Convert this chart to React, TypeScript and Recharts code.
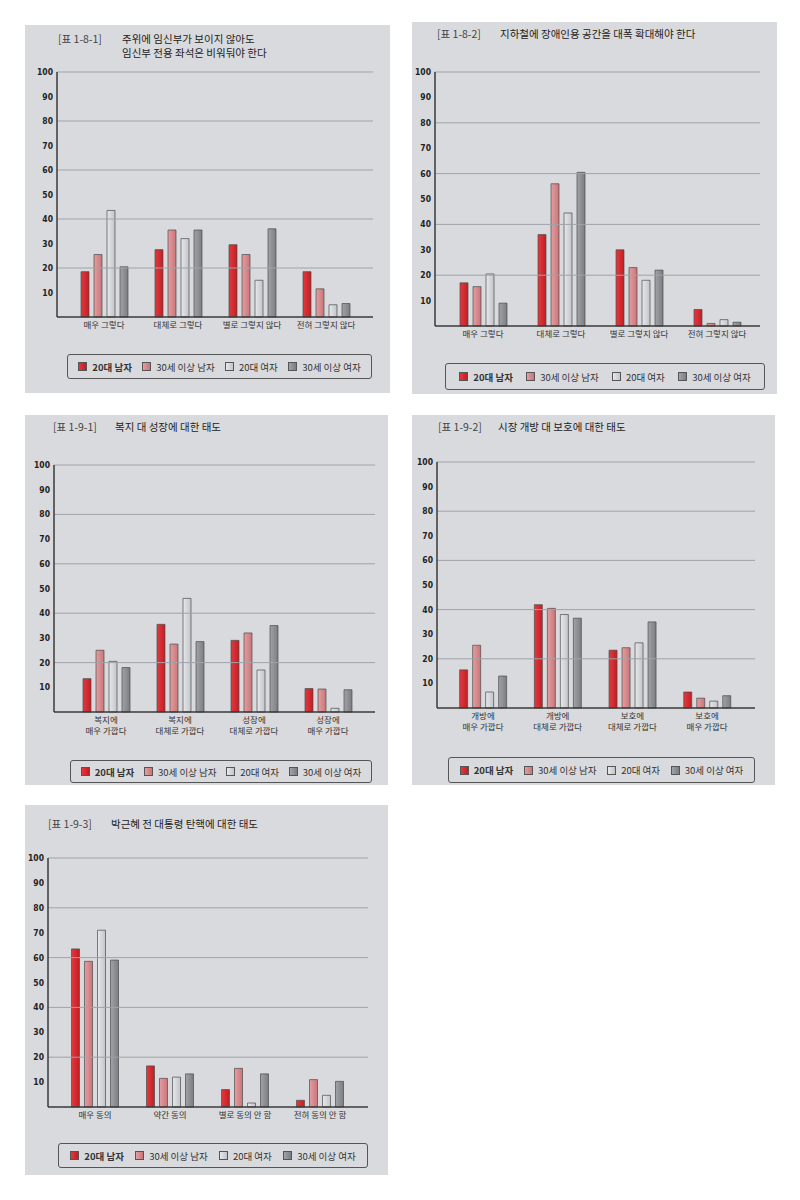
import React from 'react';
import { BarChart, Bar, XAxis, YAxis, ReferenceLine } from 'recharts';

const SERIES = ['20대 남자', '30세 이상 남자', '20대 여자', '30세 이상 여자'];
const SERIES_KEYS = ['m20', 'm30', 'f20', 'f30'];
const Y_TICKS = [10, 20, 30, 40, 50, 60, 70, 80, 90, 100];
const GRID_LINES = [20, 40, 60, 80, 100];

// [표 1-8-1]
const CATS_181 = ['매우 그렇다', '대체로 그렇다', '별로 그렇지 않다', '전혀 그렇지 않다'];
const M20_181 = [18.5, 27.5, 29.5, 18.5];
const M30_181 = [25.5, 35.5, 25.5, 11.5];
const F20_181 = [43.5, 32, 15, 5];
const F30_181 = [20.5, 35.5, 36, 5.5];

// [표 1-8-2]
const CATS_182 = ['매우 그렇다', '대체로 그렇다', '별로 그렇지 않다', '전혀 그렇지 않다'];
const M20_182 = [17, 36, 30, 6.5];
const M30_182 = [15.5, 56, 23, 1];
const F20_182 = [20.5, 44.5, 18, 2.5];
const F30_182 = [9, 60.5, 22, 1.5];

// [표 1-9-1]
const CATS_191 = ['복지에\n매우 가깝다', '복지에\n대체로 가깝다', '성장에\n대체로 가깝다', '성장에\n매우 가깝다'];
const M20_191 = [13.5, 35.5, 29, 9.5];
const M30_191 = [25, 27.5, 32, 9.3];
const F20_191 = [20.5, 46, 17, 1.5];
const F30_191 = [18, 28.5, 35, 9];

// [표 1-9-2]
const CATS_192 = ['개방에\n매우 가깝다', '개방에\n대체로 가깝다', '보호에\n대체로 가깝다', '보호에\n매우 가깝다'];
const M20_192 = [15.5, 42, 23.5, 6.5];
const M30_192 = [25.5, 40.5, 24.5, 4];
const F20_192 = [6.5, 38, 26.5, 2.8];
const F30_192 = [13, 36.5, 35, 5];

// [표 1-9-3]
const CATS_193 = ['매우 동의', '약간 동의', '별로 동의 안 함', '전혀 동의 안 함'];
const M20_193 = [63.5, 16.5, 7, 2.7];
const M30_193 = [58.5, 11.5, 15.5, 11];
const F20_193 = [71, 12, 1.6, 4.7];
const F30_193 = [59, 13.3, 13.3, 10.3];

const FONT = '"Noto Sans CJK KR", "Noto Sans", "DejaVu Sans", sans-serif';
const PANEL_BG = '#d9dadd';
const FILLS = [
  ['#e4393e', '#c01f25'],
  ['#e49ea1', '#c97579'],
  ['#e6e8eb', '#c1c4c9'],
  ['#a0a3a8', '#7a7d82'],
];

const buildRows = (cats: string[], a: number[], b: number[], c: number[], d: number[]) =>
  cats.map((cat, i) => ({ cat, m20: a[i], m30: b[i], f20: c[i], f30: d[i] }));

const CatTick = (props: any) => {
  const { x, y, payload } = props;
  const lines = String(payload.value).split('\n');
  return (
    <text x={x} y={y} textAnchor="middle" fontSize={8.5} fill="#333" fontFamily={FONT}>
      {lines.map((l, i) => (
        <tspan key={i} x={x} dy={11}>{l}</tspan>
      ))}
    </text>
  );
};

interface PanelProps {
  id: string;
  left: number;
  top: number;
  width: number;
  height: number;
  label: string;
  title: string[];
  titleY: number;
  labelX: number;
  titleX: number;
  rows: any[];
  axisX: number;
  plotTop: number;
  zero: number;
  gridRight: number;
  firstCenter: number;
  spacing: number;
  twoLine: boolean;
  legend: { x: number; y: number; w: number; h: number };
}

function Panel(p: PanelProps) {
  const xAxisHeight = p.twoLine ? 34 : 20;
  const chartHeight = p.zero + xAxisHeight;
  const padLeft = p.firstCenter - p.spacing / 2 - p.axisX;
  const padRight = p.gridRight - (p.firstCenter + 3.5 * p.spacing);
  return (
    <div
      style={{
        position: 'absolute',
        left: p.left,
        top: p.top,
        width: p.width,
        height: p.height,
        background: PANEL_BG,
        fontFamily: FONT,
      }}
    >
      <div
        style={{
          position: 'absolute',
          left: p.labelX,
          top: p.titleY - 8,
          fontSize: 10.5,
          lineHeight: '14px',
          color: '#444',
          fontFamily: FONT,
        }}
      >
        {p.label}
      </div>
      <div
        style={{
          position: 'absolute',
          left: p.titleX,
          top: p.titleY - 8,
          fontSize: 10.5,
          color: '#222',
          lineHeight: '14px',
          fontFamily: FONT,
        }}
      >
        {p.title.map((t, i) => (
          <div key={i}>{t}</div>
        ))}
      </div>
      <div style={{ position: 'absolute', left: 0, top: 0 }}>
        <BarChart
          width={p.width}
          height={chartHeight}
          data={p.rows}
          margin={{ top: p.plotTop, right: p.width - p.gridRight, left: 0, bottom: 0 }}
          barSize={8}
          barGap={5}
        >
          <defs>
            {FILLS.map((f, i) => (
              <linearGradient key={i} id={`${p.id}-g${i}`} x1="0" y1="0" x2="1" y2="0">
                <stop offset="0%" stopColor={f[0]} />
                <stop offset="100%" stopColor={f[1]} />
              </linearGradient>
            ))}
          </defs>
          {GRID_LINES.map((v) => (
            <ReferenceLine key={v} y={v} stroke="#9fa3a9" strokeWidth={1} ifOverflow="extendDomain" />
          ))}
          <XAxis
            dataKey="cat"
            interval={0}
            height={xAxisHeight}
            padding={{ left: padLeft, right: padRight }}
            tickLine={false}
            tickSize={0}
            tickMargin={0}
            axisLine={{ stroke: '#3a3a3a', strokeWidth: 1.5 }}
            tick={<CatTick />}
          />
          <YAxis
            width={p.axisX}
            domain={[0, 100]}
            ticks={Y_TICKS}
            interval={0}
            tickLine={false}
            tickSize={0}
            tickMargin={4}
            axisLine={{ stroke: '#3a3a3a', strokeWidth: 1.5 }}
            tick={{ fontSize: 8.5, fontWeight: 700, fill: '#222', fontFamily: '"Liberation Sans Narrow", "DejaVu Sans Condensed", sans-serif' }}
          />
          {SERIES_KEYS.map((k, i) => (
            <Bar
              key={k}
              dataKey={k}
              name={SERIES[i]}
              fill={`url(#${p.id}-g${i})`}
              stroke="#4a4a4a"
              strokeWidth={0.7}
              isAnimationActive={false}
            />
          ))}
        </BarChart>
      </div>
      <div
        style={{
          position: 'absolute',
          left: p.legend.x,
          top: p.legend.y,
          width: p.legend.w,
          height: p.legend.h,
          boxSizing: 'border-box',
          border: '1.5px solid #555',
          borderRadius: 3,
          display: 'flex',
          alignItems: 'center',
          justifyContent: 'space-evenly',
          fontSize: 9.5,
          color: '#333',
        }}
      >
        {SERIES.map((s, i) => (
          <div key={s} style={{ display: 'flex', alignItems: 'center', gap: 5 }}>
            <div
              style={{
                width: 9,
                height: 9,
                boxSizing: 'border-box',
                border: '1px solid #555',
                background: `linear-gradient(90deg, ${FILLS[i][0]}, ${FILLS[i][1]})`,
              }}
            />
            <span style={{ fontWeight: i === 0 ? 700 : 400 }}>{s}</span>
          </div>
        ))}
      </div>
    </div>
  );
}

export default function App() {
  return (
    <div style={{ position: 'relative', width: 800, height: 1200, background: '#fff', overflow: 'hidden' }}>
      <style>{'body{margin:0}'}</style>
      <Panel
        id="p181"
        left={25}
        top={25}
        width={365}
        height={368}
        label="[표 1-8-1]"
        title={['주위에 임신부가 보이지 않아도', '임신부 전용 좌석은 비워둬야 한다']}
        titleY={15}
        labelX={33}
        titleX={97}
        rows={buildRows(CATS_181, M20_181, M30_181, F20_181, F30_181)}
        axisX={32}
        plotTop={47}
        zero={292}
        gridRight={348}
        firstCenter={79}
        spacing={74}
        twoLine={false}
        legend={{ x: 42, y: 329, w: 305, h: 25 }}
      />
      <Panel
        id="p182"
        left={412}
        top={22}
        width={365}
        height={372}
        label="[표 1-8-2]"
        title={['지하철에 장애인용 공간을 대폭 확대해야 한다']}
        titleY={13}
        labelX={25}
        titleX={88}
        rows={buildRows(CATS_182, M20_182, M30_182, F20_182, F30_182)}
        axisX={23}
        plotTop={50}
        zero={304}
        gridRight={348}
        firstCenter={71}
        spacing={78}
        twoLine={false}
        legend={{ x: 33, y: 341, w: 320, h: 27 }}
      />
      <Panel
        id="p191"
        left={25}
        top={415}
        width={363}
        height={370}
        label="[표 1-9-1]"
        title={['복지 대 성장에 대한 태도']}
        titleY={13}
        labelX={28}
        titleX={90}
        rows={buildRows(CATS_191, M20_191, M30_191, F20_191, F30_191)}
        axisX={29}
        plotTop={50}
        zero={297}
        gridRight={350}
        firstCenter={81}
        spacing={74}
        twoLine={true}
        legend={{ x: 45, y: 345, w: 302, h: 23 }}
      />
      <Panel
        id="p192"
        left={412}
        top={415}
        width={363}
        height={370}
        label="[표 1-9-2]"
        title={['시장 개방 대 보호에 대한 태도']}
        titleY={13}
        labelX={26}
        titleX={86}
        rows={buildRows(CATS_192, M20_192, M30_192, F20_192, F30_192)}
        axisX={25}
        plotTop={47}
        zero={293}
        gridRight={343}
        firstCenter={71}
        spacing={74.7}
        twoLine={true}
        legend={{ x: 36, y: 342, w: 307, h: 26 }}
      />
      <Panel
        id="p193"
        left={25}
        top={805}
        width={363}
        height={370}
        label="[표 1-9-3]"
        title={['박근혜 전 대통령 탄핵에 대한 태도']}
        titleY={20}
        labelX={23}
        titleX={86}
        rows={buildRows(CATS_193, M20_193, M30_193, F20_193, F30_193)}
        axisX={23}
        plotTop={53}
        zero={302}
        gridRight={343}
        firstCenter={70}
        spacing={75}
        twoLine={false}
        legend={{ x: 33, y: 338, w: 310, h: 25 }}
      />
    </div>
  );
}
